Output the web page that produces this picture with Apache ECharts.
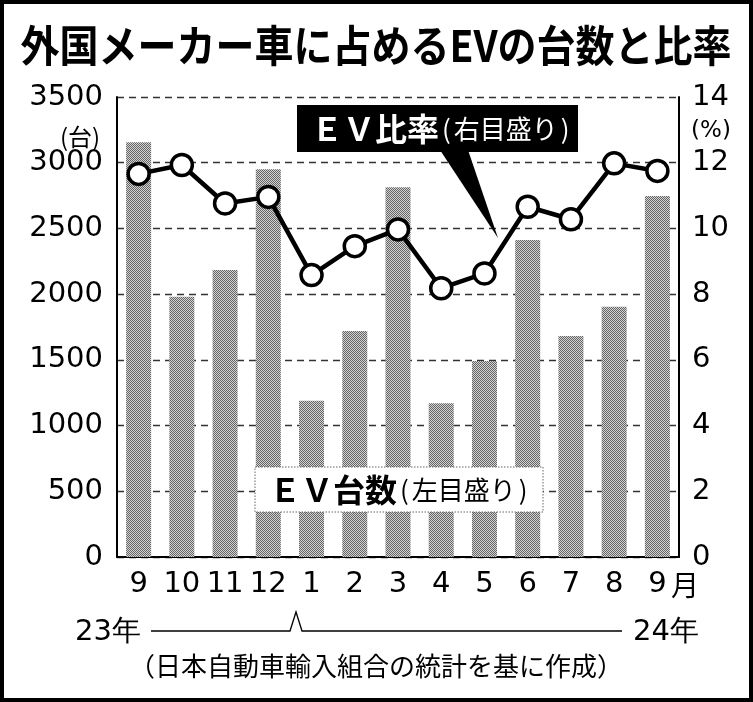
<!DOCTYPE html>
<html>
<head>
<meta charset="utf-8">
<script src="https://cdn.jsdelivr.net/npm/echarts@6/dist/echarts.min.js"></script>
<style>
html,body{margin:0;padding:0;background:#fff;}
#c{width:753px;height:702px;}
</style>
</head>
<body>
<div id="c"></div>
<script>
const months = ['9','10','11','12','1','2','3','4','5','6','7','8','9'];
const evCount = [3155, 1981, 2184, 2950, 1189, 1720, 2813, 1169, 1491, 2412, 1681, 1904, 2747];
const evRatio = [11.66, 11.93, 10.76, 10.96, 8.58, 9.46, 9.97, 8.18, 8.63, 10.66, 10.28, 11.98, 11.75];
const leftTicks = {min: 0, max: 3500, interval: 500};
const rightTicks = {min: 0, max: 14, interval: 2};

const CJK = '"Noto Sans CJK JP", sans-serif';
const NUM = '"DejaVu Sans", sans-serif';

// dotted halftone pattern for bars
const pc = document.createElement('canvas');
pc.width = 2; pc.height = 2;
const px = pc.getContext('2d');
px.fillStyle = '#d4d4d4'; px.fillRect(0,0,2,2);
px.fillStyle = '#646464'; px.fillRect(0,0,1,1); px.fillRect(1,1,1,1);

const chart = echarts.init(document.getElementById('c'), null, {renderer: 'canvas'});

const option = {
  animation: false,
  backgroundColor: '#fff',
  grid: {left: 117, right: 74, top: 97, bottom: 145},
  xAxis: {
    type: 'category',
    data: months,
    axisLine: {show: true, lineStyle: {color: '#000', width: 2}},
    axisTick: {show: false},
    axisLabel: {interval: 0, hideOverlap: false, color: '#000', fontFamily: NUM, fontSize: 29, margin: 13}
  },
  yAxis: [
    {
      type: 'value', position: 'left',
      min: leftTicks.min, max: leftTicks.max, interval: leftTicks.interval,
      axisLine: {show: true, lineStyle: {color: '#000', width: 2}},
      axisTick: {show: false},
      axisLabel: {color: '#000', fontFamily: NUM, fontSize: 29, margin: 14, formatter: v => String(v)},
      splitLine: {show: true, lineStyle: {color: '#333', width: 1.3, type: [7, 5]}}
    },
    {
      type: 'value', position: 'right',
      min: rightTicks.min, max: rightTicks.max, interval: rightTicks.interval,
      axisLine: {show: true, lineStyle: {color: '#000', width: 2}},
      axisTick: {show: false},
      axisLabel: {color: '#000', fontFamily: NUM, fontSize: 29, margin: 13, formatter: v => String(v)},
      splitLine: {show: false}
    }
  ],
  series: [
    {
      type: 'bar', yAxisIndex: 0, data: evCount, barWidth: 25,
      itemStyle: {color: {image: pc, repeat: 'repeat'}},
      z: 2
    },
    {
      type: 'line', yAxisIndex: 1, data: evRatio,
      symbol: 'circle', symbolSize: 21,
      lineStyle: {color: '#000', width: 4.5},
      itemStyle: {color: '#fff', borderColor: '#000', borderWidth: 3.5},
      z: 5
    }
  ],
  graphic: [
    {type: 'rect', shape: {x: 2, y: 2, width: 749, height: 698}, style: {fill: null, stroke: '#000', lineWidth: 4}, z: 100},
    {type: 'text', x: 376, y: 45, scaleY: 1.12, style: {text: '外国メーカー車に占めるEVの台数と比率', font: 'bold 39px ' + CJK, fill: '#000', align: 'center', verticalAlign: 'middle'}, z: 100},
    {type: 'text', x: 80, y: 137, style: {text: '(台)', font: '24px ' + CJK, fill: '#000', align: 'center', verticalAlign: 'middle'}, z: 100},
    {type: 'text', x: 711, y: 131, style: {text: '(%)', font: '23px ' + NUM, fill: '#000', align: 'center', verticalAlign: 'middle'}, z: 100},
    // EV ratio legend (black callout)
    {type: 'polygon', shape: {points: [[440,150],[468,150],[498,238]]}, style: {fill: '#000'}, z: 100},
    {type: 'rect', shape: {x: 297, y: 105, width: 281, height: 47}, style: {fill: '#000'}, z: 100},
    {type: 'text', x: 311, y: 129, style: {
      text: '{a|ＥＶ比率}{p|(}{b|右目盛り}{p|)}', verticalAlign: 'middle', align: 'left',
      rich: {
        a: {fontFamily: CJK, fontSize: 32, fontWeight: 'bold', fill: '#fff'},
        p: {fontFamily: CJK, fontSize: 26, fill: '#fff', padding: [0, 3, 0, 3]},
        b: {fontFamily: CJK, fontSize: 26, fill: '#fff'}
      }
    }, z: 101},
    // EV count legend (white box)
    {type: 'rect', shape: {x: 255, y: 467, width: 288, height: 45}, style: {fill: '#fff', stroke: '#666', lineWidth: 1, lineDash: [1.5, 1.5]}, z: 100},
    {type: 'text', x: 269, y: 490, style: {
      text: '{a|ＥＶ台数}{p|(}{b|左目盛り}{p|)}', verticalAlign: 'middle', align: 'left',
      rich: {
        a: {fontFamily: CJK, fontSize: 32, fontWeight: 'bold', fill: '#000'},
        p: {fontFamily: CJK, fontSize: 26, fill: '#000', padding: [0, 3, 0, 3]},
        b: {fontFamily: CJK, fontSize: 26, fill: '#000'}
      }
    }, z: 101},
    // month suffix
    {type: 'text', x: 671, y: 585, style: {text: '月', font: '28px ' + CJK, fill: '#000', align: 'left', verticalAlign: 'middle'}, z: 100},
    // year markers
    {type: 'text', x: 108, y: 632, style: {text: '23年', font: '29px ' + NUM, fill: '#000', align: 'center', verticalAlign: 'middle'}, z: 100},
    {type: 'text', x: 666, y: 632, style: {text: '24年', font: '29px ' + NUM, fill: '#000', align: 'center', verticalAlign: 'middle'}, z: 100},
    {type: 'polyline', shape: {points: [[151,631],[290,631],[296,612],[302,631],[622,631]]}, style: {stroke: '#000', lineWidth: 1.3, fill: null}, z: 100},
    {type: 'text', x: 376, y: 666, style: {text: '（日本自動車輸入組合の統計を基に作成）', font: '26px ' + CJK, fill: '#000', align: 'center', verticalAlign: 'middle'}, z: 100}
  ]
};
chart.setOption(option);
</script>
</body>
</html>
